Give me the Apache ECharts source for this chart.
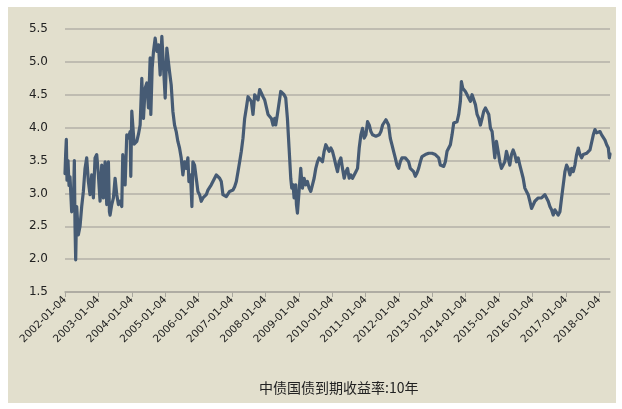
<!DOCTYPE html>
<html>
<head>
<meta charset="utf-8">
<script src="https://cdn.jsdelivr.net/npm/echarts@6/dist/echarts.min.js"></script>
<style>
html,body{margin:0;padding:0;background:#ffffff;}
#wrap{position:relative;width:622px;height:409px;background:#ffffff;}
#bg{position:absolute;left:8px;top:7px;width:608px;height:396px;background:#e2dfcd;}
#chart{position:absolute;left:0;top:0;width:622px;height:409px;}
</style>
</head>
<body>
<div id="wrap"><div id="bg"></div><div id="chart"></div></div>
<script>
// decimal years (x) and 10Y CGB yields (%)
const dates = [
2002.00,2002.02,2002.04,2002.06,2002.09,2002.12,2002.15,2002.20,2002.25,2002.28,2002.30,2002.32,2002.35,2002.40,2002.45,2002.50,2002.55,2002.60,2002.65,2002.70,2002.75,2002.80,2002.85,2002.90,2002.95,
2003.00,2003.05,2003.10,2003.15,2003.20,2003.25,2003.30,2003.33,2003.35,2003.40,2003.45,2003.50,2003.55,2003.60,2003.65,2003.70,2003.73,2003.77,2003.80,2003.85,2003.90,2003.95,2003.97,
2004.00,2004.03,2004.07,2004.10,2004.15,2004.20,2004.25,2004.30,2004.33,2004.35,2004.40,2004.45,2004.50,2004.55,2004.57,2004.61,2004.65,2004.70,2004.75,2004.80,2004.85,2004.90,2004.95,
2005.00,2005.05,2005.13,2005.18,2005.23,2005.28,2005.33,2005.38,2005.43,2005.48,2005.53,2005.58,2005.63,2005.68,2005.71,2005.76,2005.80,2005.83,2005.88,2005.93,2005.98,
2006.03,2006.08,2006.13,2006.18,2006.23,2006.28,2006.33,2006.38,2006.43,2006.48,2006.53,2006.58,2006.63,2006.68,2006.73,2006.78,2006.83,2006.88,2006.93,2006.98,
2007.03,2007.08,2007.13,2007.18,2007.23,2007.28,2007.33,2007.38,2007.43,2007.48,2007.53,2007.58,2007.63,2007.68,2007.73,2007.78,2007.83,2007.88,2007.93,2007.98,
2008.03,2008.08,2008.13,2008.18,2008.23,2008.28,2008.31,2008.36,2008.41,2008.46,2008.51,2008.56,2008.61,2008.66,2008.71,2008.76,2008.79,2008.83,2008.86,2008.91,2008.93,2008.96,
2009.01,2009.06,2009.09,2009.11,2009.16,2009.21,2009.26,2009.31,2009.36,2009.41,2009.46,2009.51,2009.56,2009.61,2009.66,2009.71,2009.76,2009.81,2009.86,2009.91,2009.96,
2010.01,2010.06,2010.11,2010.16,2010.21,2010.26,2010.31,2010.36,2010.41,2010.46,2010.51,2010.56,2010.61,2010.66,2010.71,2010.76,2010.81,2010.86,2010.91,2010.96,
2011.01,2011.06,2011.11,2011.16,2011.21,2011.26,2011.31,2011.36,2011.41,2011.46,2011.51,2011.56,2011.61,2011.66,2011.69,2011.74,2011.79,2011.84,2011.89,2011.94,2011.99,
2012.04,2012.09,2012.14,2012.19,2012.24,2012.29,2012.34,2012.39,2012.44,2012.49,2012.54,2012.59,2012.64,2012.69,2012.74,2012.79,2012.84,2012.89,2012.94,2012.99,
2013.04,2013.09,2013.14,2013.19,2013.24,2013.29,2013.34,2013.39,2013.44,2013.49,2013.54,2013.59,2013.64,2013.69,2013.74,2013.79,2013.84,2013.87,2013.91,2013.94,2013.99,
2014.04,2014.09,2014.14,2014.19,2014.24,2014.29,2014.34,2014.39,2014.44,2014.49,2014.54,2014.59,2014.64,2014.69,2014.74,2014.79,2014.82,2014.87,2014.92,2014.97,
2015.02,2015.07,2015.12,2015.17,2015.22,2015.27,2015.32,2015.37,2015.42,2015.47,2015.52,2015.57,2015.62,2015.67,2015.72,2015.77,2015.82,2015.87,2015.92,2015.97,
2016.02,2016.07,2016.12,2016.17,2016.22,2016.27,2016.32,2016.37,2016.42,2016.47,2016.52,2016.57,2016.62,2016.67,2016.72,2016.77,2016.82,2016.87,2016.92,2016.97,
2017.02,2017.07,2017.12,2017.17,2017.22,2017.27,2017.32,2017.37,2017.42,2017.47,2017.52,2017.57,2017.62,2017.67,2017.72,2017.77,2017.82,2017.87,2017.92,2017.97,
2018.02,2018.07,2018.12,2018.17,2018.22,2018.27,2018.30,2018.32
];
const yields = [
3.30,3.60,3.82,3.20,3.50,3.12,3.25,2.72,2.80,3.50,2.50,1.99,2.80,2.37,2.50,2.80,3.03,3.38,3.54,3.18,2.98,3.28,2.93,3.54,3.59,
3.28,2.88,3.43,2.93,3.48,2.83,3.48,2.72,2.67,2.83,2.93,3.23,2.98,2.83,2.88,2.80,3.59,3.20,3.13,3.89,3.84,3.94,3.26,
4.25,4.04,3.75,3.74,3.79,3.90,4.04,4.75,4.20,4.14,4.60,4.68,4.30,5.06,4.20,4.90,5.16,5.36,5.16,5.26,4.80,5.39,5.36,
4.45,5.21,4.85,4.65,4.25,4.04,3.94,3.79,3.69,3.54,3.28,3.48,3.38,3.54,3.18,3.28,2.80,3.48,3.43,3.23,3.03,
2.98,2.88,2.93,2.93,2.98,3.05,3.03,3.13,3.18,3.23,3.28,3.26,3.23,3.18,2.98,2.98,2.95,2.98,3.03,3.03,
3.05,3.10,3.18,3.33,3.48,3.64,3.84,4.14,4.30,4.47,4.50,4.40,4.20,4.50,4.53,4.42,4.58,4.60,4.47,4.42,
4.40,4.20,4.20,4.14,4.04,4.14,4.04,4.20,4.20,4.55,4.55,4.50,4.45,4.14,3.69,3.23,3.08,3.13,2.93,3.13,2.83,2.70,
2.67,3.38,3.18,3.08,3.23,3.13,3.18,3.08,3.03,3.13,3.23,3.38,3.48,3.54,3.51,3.48,3.64,3.74,3.69,3.64,3.69,
3.64,3.54,3.43,3.33,3.48,3.54,3.38,3.23,3.33,3.38,3.23,3.28,3.23,3.28,3.33,3.38,3.69,3.89,3.99,3.84,
3.89,4.09,4.04,3.94,3.89,3.92,3.87,3.84,3.89,3.94,4.04,4.07,4.12,4.10,4.04,3.84,3.74,3.64,3.54,3.43,3.38,
3.48,3.54,3.56,3.54,3.51,3.48,3.38,3.41,3.33,3.26,3.31,3.38,3.48,3.56,3.54,3.59,3.59,3.61,3.61,3.61,
3.59,3.59,3.56,3.54,3.43,3.43,3.41,3.48,3.64,3.69,3.74,3.89,4.07,4.09,4.09,4.20,4.40,4.70,4.60,4.60,4.55,
4.50,4.50,4.40,4.50,4.47,4.35,4.20,4.14,4.04,4.14,4.25,4.30,4.30,4.20,3.99,3.94,3.79,3.54,3.79,3.64,
3.48,3.38,3.43,3.48,3.64,3.64,3.43,3.59,3.66,3.59,3.48,3.54,3.43,3.33,3.23,3.08,3.03,2.98,2.88,2.77,
2.80,2.88,2.90,2.93,2.90,2.93,2.95,2.98,3.00,2.88,2.80,2.75,2.67,2.75,2.72,2.67,2.72,2.93,3.13,3.33,
3.43,3.38,3.28,3.38,3.33,3.43,3.59,3.69,3.59,3.54,3.59,3.61,3.61,3.64,3.66,3.69,3.89,3.97,3.92,3.92,
3.94,3.89,3.87,3.81,3.74,3.69,3.54,3.60
];
const tickYears = [2002,2003,2004,2005,2006,2007,2008,2009,2010,2011,2012,2013,2014,2015,2016,2017,2018];
const seriesName = '中债国债到期收益率:10年';

const seriesData = dates.map((d, i) => [d, yields[i]]);

const chart = echarts.init(document.getElementById('chart'), null, {renderer: 'canvas'});
chart.setOption({
  backgroundColor: 'transparent',
  animation: false,
  title: {
    text: seriesName,
    left: 254,
    top: 376,
    textStyle: {fontFamily: '"Noto Sans CJK SC", sans-serif', fontSize: 14, fontWeight: 'normal', color: '#222222'}
  },
  grid: {left: 65, right: 12, top: 29, bottom: 117},
  xAxis: {
    type: 'value',
    min: 2002,
    max: 2018.32,
    interval: 1,
    axisLine: {show: true, lineStyle: {color: '#a9a79e', width: 1.5}},
    axisTick: {show: true, length: 5, customValues: tickYears, lineStyle: {color: '#a9a79e', width: 1}},
    splitLine: {show: false},
    axisLabel: {
      customValues: tickYears,
      rotate: 45,
      margin: 6,
      fontFamily: '"DejaVu Sans", sans-serif',
      fontSize: 10.5,
      color: '#222222',
      formatter: v => Math.round(v) + '-01-04'
    }
  },
  yAxis: {
    type: 'value',
    min: 1.5,
    max: 5.5,
    interval: 0.5,
    axisLine: {show: false},
    axisTick: {show: false},
    splitLine: {show: true, lineStyle: {color: '#b3b1a7', width: 1.5}},
    axisLabel: {
      margin: 17,
      fontFamily: '"DejaVu Sans", sans-serif',
      fontSize: 12,
      color: '#222222',
      formatter: v => v.toFixed(1)
    }
  },
  series: [{
    name: seriesName,
    type: 'line',
    data: seriesData,
    showSymbol: false,
    symbol: 'none',
    smooth: false,
    lineStyle: {color: '#465b74', width: 3.2, join: 'round', cap: 'round'}
  }]
});
</script>
</body>
</html>
